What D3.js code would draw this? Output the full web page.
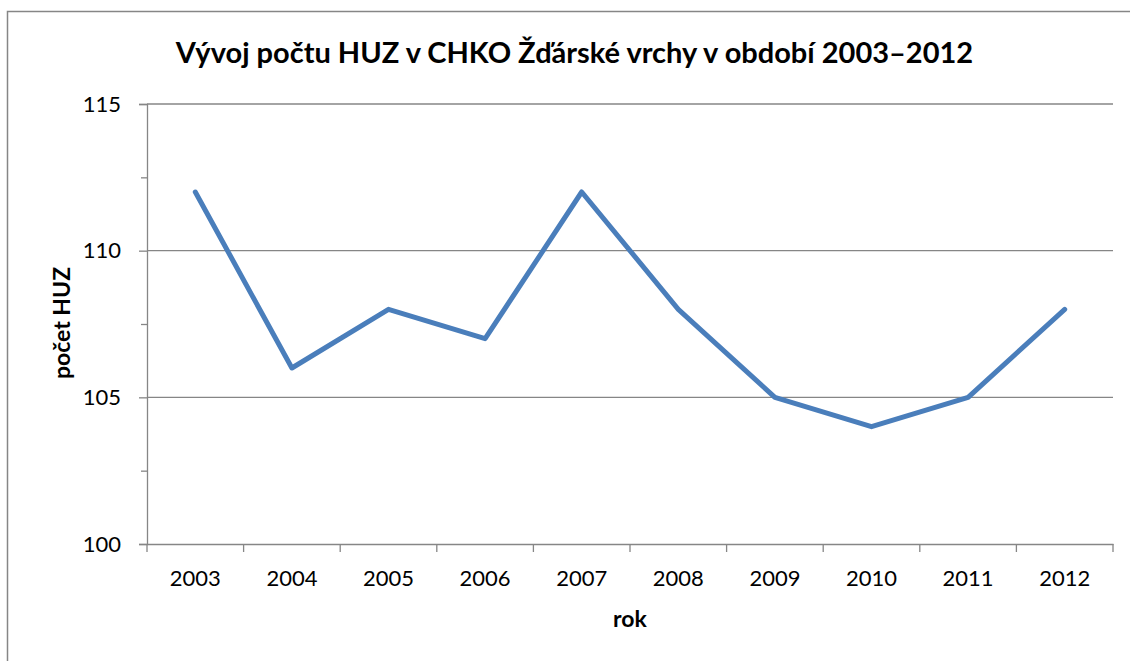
<!DOCTYPE html>
<html><head><meta charset="utf-8">
<script src="https://cdn.jsdelivr.net/npm/d3@7"></script>
<style>body{margin:0;background:#fff}svg{display:block}</style>
</head><body>
<script>
const years = ["2003","2004","2005","2006","2007","2008","2009","2010","2011","2012"];
const counts = [112,106,108,107,112,108,105,104,105,108];
const yTicks = [100,105,110,115];
const title = "Vývoj počtu HUZ v CHKO Žďárské vrchy v období 2003–2012";
const xTitle = "rok";
const yTitle = "počet HUZ";

const W = 1130, H = 661;
const font = "Lato, 'Open Sans', sans-serif";
const svg = d3.select("body").append("svg").attr("width", W).attr("height", H);
svg.append("rect").attr("x",7.5).attr("y",11.5).attr("width",1140).attr("height",680)
  .attr("fill","#fff").attr("stroke","#868686").attr("stroke-width",1.5);

const L = 147, R = 1113, T = 104, B = 544;
const x = d3.scaleBand().domain(years).range([L,R]);
const y = d3.scaleLinear().domain([100,115]).range([B,T]);
const grey = "#868686";

svg.append("g").selectAll("line").data(yTicks.filter(d=>d>100)).join("line")
  .attr("x1",L).attr("x2",R).attr("y1",d=>y(d)).attr("y2",d=>y(d))
  .attr("stroke",grey).attr("stroke-width",1.3);

const yAxis = svg.append("g").attr("transform",`translate(${L},0)`)
  .call(d3.axisLeft(y).tickValues(yTicks).tickSize(8).tickPadding(18).tickFormat(d3.format("d")));
const yMinor = svg.append("g").attr("transform",`translate(${L},0)`)
  .call(d3.axisLeft(y).tickValues(d3.range(100,115,2.5).filter(d=>d%5!==0)).tickSize(6).tickFormat(""));
yMinor.select(".domain").remove();
[yAxis,yMinor].forEach(g=>{
  g.selectAll("line").attr("stroke",grey).attr("stroke-width",1.3);
  g.select(".domain").attr("stroke",grey).attr("stroke-width",1.3);
});
yAxis.selectAll("text").attr("font-family",font).attr("font-size",22).attr("fill","#000");

const xAxis = svg.append("g").attr("transform",`translate(0,${B})`)
  .call(d3.axisBottom(x).tickSize(0).tickPadding(26));
xAxis.select(".domain").attr("stroke",grey).attr("stroke-width",1.3);
xAxis.selectAll("text").attr("font-family",font).attr("font-size",22).attr("fill","#000");
svg.append("g").selectAll("line").data(d3.range(years.length+1)).join("line")
  .attr("x1",i=>L+i*x.step()).attr("x2",i=>L+i*x.step())
  .attr("y1",B).attr("y2",B+8).attr("stroke",grey).attr("stroke-width",1.3);

svg.append("path").datum(counts)
  .attr("d", d3.line().x((d,i)=>x(years[i])+x.bandwidth()/2).y(d=>y(d)))
  .attr("fill","none").attr("stroke","#4a7ebb").attr("stroke-width",5)
  .attr("stroke-linejoin","round").attr("stroke-linecap","round");

svg.append("text").attr("x",574.5).attr("y",63).attr("text-anchor","middle")
  .attr("font-family",font).attr("font-weight","bold").attr("font-size",29).text(title);
svg.append("text").attr("x",630).attr("y",627).attr("text-anchor","middle")
  .attr("font-family",font).attr("font-weight","bold").attr("font-size",23).text(xTitle);
svg.append("text").attr("transform","translate(70,323) rotate(-90)").attr("text-anchor","middle")
  .attr("font-family",font).attr("font-weight","bold").attr("font-size",23).text(yTitle);
</script>
</body></html>
